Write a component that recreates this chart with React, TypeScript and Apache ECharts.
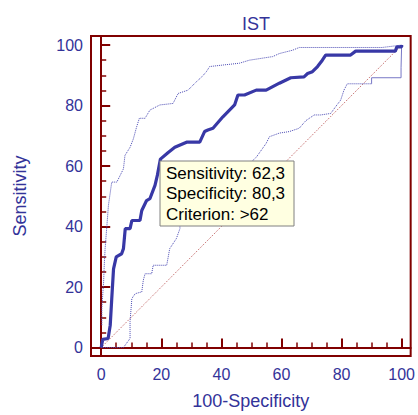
import React, { useEffect, useRef } from "react";
import * as echarts from "echarts";

// ROC curve (100-Specificity, Sensitivity)
const rocX = [0, 0.5, 2.3, 3, 3.5, 4.1, 5, 6.8, 7.4, 8, 9.6, 10.2, 12.9, 13.5, 15.1, 16.2, 17.9, 18.7, 19.7, 22.3, 24.5, 28.4, 32.8, 34.4, 35.5, 37.2, 40.5, 44.4, 45.5, 47.7, 51.6, 54.9, 59.3, 63.1, 67.5, 68.7, 70.3, 72, 73.6, 74.7, 83, 84.7, 97.9, 98.4, 100, 100];
const rocY = [0, 2.7, 3, 7.4, 16, 26, 30, 31, 32.7, 39.3, 39.3, 42, 42, 45.3, 48.6, 49.2, 53.6, 57, 62.3, 64.5, 66.2, 67.9, 67.9, 71.4, 71.9, 72.5, 76.3, 80.2, 83.5, 83.5, 85.1, 85.1, 87.4, 89.2, 89.5, 90.6, 91.2, 92.9, 95, 96.7, 96.7, 98, 98, 99.4, 99.4, 100];

// Upper confidence bound
const upperX = [0.2, 0.2, 0.8, 1, 1.3, 1.9, 2.4, 3.5, 5.2, 7.4, 7.9, 9.6, 10.7, 11.8, 12.7, 14.6, 16.2, 19.5, 23.9, 25.6, 28.9, 31.7, 33.5, 35, 36.1, 40.5, 46, 49.3, 57.1, 59.3, 63.7, 65.9, 93.5, 100];
const upperY = [7.4, 12.9, 21.7, 27, 32.7, 40.4, 47, 54.7, 54.7, 59.1, 63.5, 66.2, 69, 73, 75.8, 75.8, 78.5, 80.2, 80.7, 84, 85.1, 87.9, 89.5, 91.2, 92.9, 93.4, 94, 95, 96.2, 97.2, 98.3, 99.2, 99.2, 100];

// Lower confidence bound (dotted part)
const lowerX = [0, 7.4, 9.6, 9.6, 10.2, 11.3, 13.5, 14, 14.6, 16.8, 17.3, 21.8, 22.8, 25, 26.2, 26.2, 28, 31, 34, 38, 42, 46, 50, 51.6, 54.9, 56, 59.3, 62.6, 65.9, 68.1, 70.9, 73.1, 76.4, 78, 79.7, 80.8, 81.9, 90];
const lowerY = [0, 0, 3, 8.6, 16.2, 17.8, 18.4, 22.2, 24.4, 24.4, 27.2, 27.2, 32.7, 36, 39.3, 43.7, 45, 47, 49, 52, 55, 58, 61.4, 62.9, 67.5, 69.7, 70.9, 71.4, 72.5, 75, 76.9, 76.9, 77.4, 79.6, 81.8, 85.1, 87.2, 87.2];
// Lower confidence bound (solid tail)
const lowerTailX = [90, 90, 99.8, 99.8, 100];
const lowerTailY = [87.2, 89.2, 89.2, 92.5, 100];

const diagX = [0, 100];
const diagY = [0, 100];

const majorTicks = [0, 20, 40, 60, 80, 100];
const minorTicks = [5, 10, 15, 25, 30, 35, 45, 50, 55, 65, 70, 75, 85, 90, 95];

const criterionPoint = [19.7, 62.3];
const tooltipLines = ["Sensitivity: 62,3", "Specificity: 80,3", "Criterion: >62"];

const titleText = "IST";
const xName = "100-Specificity";
const yName = "Sensitivity";

const zip = (xs: number[], ys: number[]) => xs.map((x, i) => [x, ys[i]]);

const FONT = "'Liberation Sans', Arial, Helvetica, sans-serif";
const BLUE_TEXT = "#333399";
const MAROON = "#800000";

export default function App() {
  const ref = useRef<HTMLDivElement>(null);

  useEffect(() => {
    if (!ref.current) return;
    const chart = echarts.init(ref.current, null, { renderer: "svg" });

    const xMin = -3.4, xMax = 103;
    const yMin = -2.8, yMax = 103;

    const axisCommon = (name: string, isX: boolean) => ({
      type: "value",
      name,
      nameLocation: "middle",
      nameGap: isX ? 36 : 62,
      nameTextStyle: { color: BLUE_TEXT, fontSize: 18, fontFamily: FONT },
      axisLine: { show: true, lineStyle: { color: MAROON, width: 2 } },
      axisTick: {
        show: true,
        inside: true,
        length: 9,
        customValues: majorTicks,
        lineStyle: { color: MAROON, width: 2 },
      },
      axisLabel: {
        show: true,
        customValues: majorTicks,
        color: BLUE_TEXT,
        fontSize: 16,
        fontFamily: FONT,
        margin: isX ? 10 : 8,
      },
      splitLine: { show: false },
    });

    const minorAxis = (isX: boolean) => ({
      type: "value",
      position: isX ? "bottom" : "left",
      axisLine: { show: false },
      axisLabel: { show: false },
      splitLine: { show: false },
      axisTick: {
        show: true,
        inside: true,
        length: 5,
        customValues: minorTicks,
        lineStyle: { color: MAROON, width: 1.5 },
      },
    });

    chart.setOption({
      animation: false,
      backgroundColor: "#ffffff",
      title: {
        text: titleText,
        left: 237,
        top: 10,
        textStyle: { color: BLUE_TEXT, fontSize: 18, fontWeight: "normal", fontFamily: FONT },
      },
      grid: {
        left: 91,
        right: 6,
        top: 36,
        bottom: 58,
        show: true,
        borderColor: MAROON,
        borderWidth: 2,
        containLabel: false,
      },
      xAxis: [
        { ...axisCommon(xName, true), min: xMin, max: xMax, position: "bottom" },
        { ...minorAxis(true), min: xMin, max: xMax },
      ],
      yAxis: [
        { ...axisCommon(yName, false), min: yMin, max: yMax, position: "left" },
        { ...minorAxis(false), min: yMin, max: yMax },
      ],
      series: [
        {
          type: "line",
          data: zip(diagX, diagY),
          showSymbol: false,
          lineStyle: { color: "#b84a4a", width: 1, type: [1, 1.5] },
          z: 1,
        },
        {
          type: "line",
          data: zip(upperX, upperY),
          showSymbol: false,
          lineStyle: { color: "#4a4ab4", width: 1, type: [1, 1] },
          z: 2,
        },
        {
          type: "line",
          data: zip(lowerX, lowerY),
          showSymbol: false,
          lineStyle: { color: "#4a4ab4", width: 1, type: [1, 1] },
          z: 2,
        },
        {
          type: "line",
          data: zip(lowerTailX, lowerTailY),
          showSymbol: false,
          lineStyle: { color: "#7777c6", width: 1 },
          z: 2,
        },
        {
          type: "line",
          data: zip(rocX, rocY),
          showSymbol: false,
          lineStyle: { color: "#3838a6", width: 3.2 },
          z: 3,
        },
      ],
    });

    const p = chart.convertToPixel({ gridIndex: 0 }, criterionPoint) as number[];
    const bx = Math.round(p[0]);
    const by = Math.round(p[1]) + 2;
    const bw = 134, bh = 65;
    chart.setOption({
      graphic: [
        {
          type: "rect",
          shape: { x: bx, y: by, width: bw, height: bh },
          style: { fill: "#ffffe1", stroke: "#808080", lineWidth: 1 },
          z: 100,
        },
        ...tooltipLines.map((t, i) => ({
          type: "text",
          x: bx + 6,
          y: by + 12 + i * 20.8,
          style: {
            text: t,
            fill: "#000000",
            font: `17px ${FONT}`,
            verticalAlign: "middle",
            align: "left",
          },
          z: 101,
        })),
      ],
    });

    return () => chart.dispose();
  }, []);

  return (
    <div
      ref={ref}
      style={{ position: "absolute", left: 0, top: 0, width: 418, height: 415, background: "#fff" }}
    />
  );
}
